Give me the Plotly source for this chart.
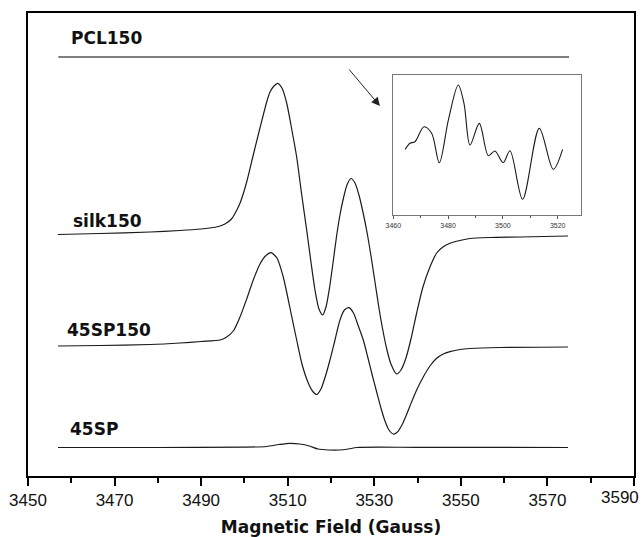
import plotly.graph_objects as go

# ---- data (field in Gauss, intensity in arbitrary units with vertical offsets) ----
pcl_field = [3457, 3480, 3500, 3520, 3540, 3560, 3575]
pcl_int = [419, 419, 419, 419, 419, 419, 419]

silk_field = [3456.9, 3466.6, 3478.2, 3485.1, 3490.0, 3492.0, 3494.0, 3495.5, 3497.0, 3498.0,
              3499.0, 3500.52, 3502.04, 3503.13, 3504.35, 3505.21, 3505.90, 3506.83, 3507.68,
              3508.67, 3509.76, 3510.75, 3512.07, 3513.18, 3514.38, 3515.37, 3516.30, 3517.22,
              3518.08, 3518.84, 3519.65, 3520.46, 3521.26, 3522.07, 3522.88, 3523.69, 3524.61,
              3525.54, 3526.46, 3527.38, 3528.31, 3529.24, 3530.16, 3531.08, 3532.01, 3532.93,
              3533.85, 3535.17, 3536.16, 3537.32, 3538.47, 3539.79, 3541.24, 3542.86, 3544.41,
              3545.94, 3547.48, 3549.79, 3552.10, 3556.72, 3563.65, 3574.74]
silk_int = [241.5, 242.5, 244, 245.5, 247, 248, 249.5, 252, 257, 264,
            273, 294, 321, 340, 361, 375, 384, 390, 392.7,
            388, 373, 351, 319, 283, 246, 214, 186, 167,
            161, 169, 188, 213, 239, 261, 278, 291, 297.5,
            293, 281, 264, 244, 220, 194, 168, 145, 126,
            112, 102, 106, 118, 137, 163, 189, 209, 223,
            229.3, 232.7, 235.5, 237.5, 238.5, 239, 240]

sp150_field = [3456.93, 3466.63, 3478.18, 3485.11, 3489.96, 3494.35, 3495.74, 3497.42, 3498.97,
               3500.52, 3502.04, 3503.59, 3504.86, 3506.13, 3507.52, 3508.97, 3510.52, 3512.07,
               3513.29, 3514.75, 3515.72, 3516.69, 3517.68, 3518.72, 3519.76, 3520.92, 3522.07,
               3523.11, 3524.15, 3525.19, 3526.23, 3527.46, 3528.54, 3529.58, 3530.55, 3531.54,
               3532.47, 3533.39, 3534.38, 3535.35, 3536.39, 3537.32, 3538.24, 3539.79, 3541.31,
               3542.86, 3544.41, 3545.93, 3547.48, 3549.79, 3552.10, 3559.03, 3574.74]
sp150_int = [130, 130.5, 131.5, 133, 134.5, 136, 138.5, 145, 159,
             177, 196, 212, 220, 223.3, 218, 199, 168, 136,
             112, 93, 85, 81.5, 87, 100, 116, 136, 156,
             166, 168.3, 163, 151, 136, 118, 100, 84, 68,
             55, 46, 42, 44, 51, 60, 70, 86, 99,
             110, 117.7, 122, 124.3, 126.5, 127.5, 128.5, 129]

sp_field = [3456.93, 3480, 3500, 3505.1, 3508, 3510.5, 3512.8, 3515, 3517, 3519.5, 3522, 3524,
            3526, 3540, 3574.74]
sp_int = [28.5, 28.5, 28.8, 29.5, 31.5, 32.7, 32, 30, 27, 26, 26, 27,
          28.5, 28.7, 28.5]

inset_field = [3464.3, 3466.1, 3467.9, 3471.2, 3474.0, 3476.8, 3480.1, 3483.7, 3485.8, 3488.0,
               3491.4, 3494.7, 3497.1, 3500.1, 3502.6, 3507.2, 3513.3, 3518.4, 3521.8]
inset_int = [65.7, 71.7, 73.3, 88.3, 81.7, 52.3, 95, 130, 111.7, 70,
             91.7, 59.3, 64, 52.3, 64.3, 15.7, 86.7, 45.7, 65.7]

labels = ["PCL150", "silk150", "45SP150", "45SP"]
label_field = [3459.4, 3460.0, 3458.6, 3459.2]
label_int = [438.5, 255, 146, 47]

main_ticks = [3450, 3470, 3490, 3510, 3530, 3550, 3570, 3590]
main_ticktext = ["3450", "3470", "3490", "3510", "3530", "3550", "3570", ""]
last_tick_label = "3590"
main_minor = [3460, 3480, 3500, 3520, 3540, 3560, 3580]
inset_ticks = [3460, 3480, 3500, 3520]
inset_minor = [3470, 3490, 3510]

fig = go.Figure()

line_main = dict(color="#1a1a1a", width=1.2, shape="spline", smoothing=0.7)
fig.add_trace(go.Scatter(x=pcl_field, y=pcl_int, mode="lines",
                         line=dict(color="#555555", width=1.3), showlegend=False))
for fx, fy in [(silk_field, silk_int), (sp150_field, sp150_int), (sp_field, sp_int)]:
    fig.add_trace(go.Scatter(x=fx, y=fy, mode="lines", line=line_main, showlegend=False))

fig.add_trace(go.Scatter(x=inset_field, y=inset_int, mode="lines",
                         line=dict(color="#1a1a1a", width=1.1, shape="spline", smoothing=0.9),
                         xaxis="x2", yaxis="y2", showlegend=False))

for t, fx, fy in zip(labels, label_field, label_int):
    fig.add_annotation(x=fx, y=fy, text=t, showarrow=False, xanchor="left", yanchor="middle",
                       font=dict(family="DejaVu Sans", size=17, color="#111111", weight="bold"))

# last tick label, kept inside the page like in the reference
fig.add_annotation(x=1, y=0, xref="paper", yref="paper", text=last_tick_label, showarrow=False,
                   xanchor="right", yanchor="middle", xshift=7, yshift=-21,
                   font=dict(family="Liberation Sans", size=17, color="#111111"))

# arrow pointing to inset
fig.add_annotation(x=3531.3, y=370, ax=3523.9, ay=408, xref="x", yref="y", axref="x", ayref="y",
                   text="", showarrow=True, arrowhead=2, arrowsize=1.7, arrowwidth=1,
                   arrowcolor="#222222")

fig.update_layout(
    width=642, height=537,
    margin=dict(l=28, r=8, t=13, b=61, autoexpand=False),
    paper_bgcolor="white", plot_bgcolor="white",
    xaxis=dict(range=[3450, 3590], tickvals=main_ticks, ticktext=main_ticktext, ticks="outside",
               ticklen=8, tickwidth=1.5, tickcolor="black", showline=True, linecolor="black",
               linewidth=2, mirror=True, showgrid=False, zeroline=False, automargin=False,
               tickfont=dict(family="Liberation Sans", size=17, color="#111111"),
               minor=dict(tickvals=main_minor, ticks="outside",
                          ticklen=5, tickwidth=1.5, tickcolor="black"),
               title=dict(text="Magnetic Field (Gauss)", standoff=13,
                          font=dict(family="DejaVu Sans", size=17, color="#111111", weight="bold"))),
    yaxis=dict(range=[0, 463], showticklabels=False, ticks="", showline=True, linecolor="black",
               linewidth=2, mirror=True, showgrid=False, zeroline=False, automargin=False),
    xaxis2=dict(domain=[0.6028, 0.912], anchor="y2", range=[3460, 3528.4], tickvals=inset_ticks,
                ticks="outside", ticklen=3, tickwidth=1, tickcolor="#555555",
                showline=True, linecolor="#777777", linewidth=1.2, mirror=True,
                showgrid=False, zeroline=False, automargin=False,
                tickfont=dict(family="Liberation Sans", size=7, color="#333333"),
                minor=dict(tickvals=inset_minor, ticks="outside", ticklen=2,
                           tickwidth=1, tickcolor="#555555")),
    yaxis2=dict(domain=[0.5637, 0.866], anchor="x2", range=[0, 140], showticklabels=False,
                ticks="", showline=True, linecolor="#777777", linewidth=1.2, mirror=True,
                showgrid=False, zeroline=False, automargin=False),
)

fig.write_html("out.html")
